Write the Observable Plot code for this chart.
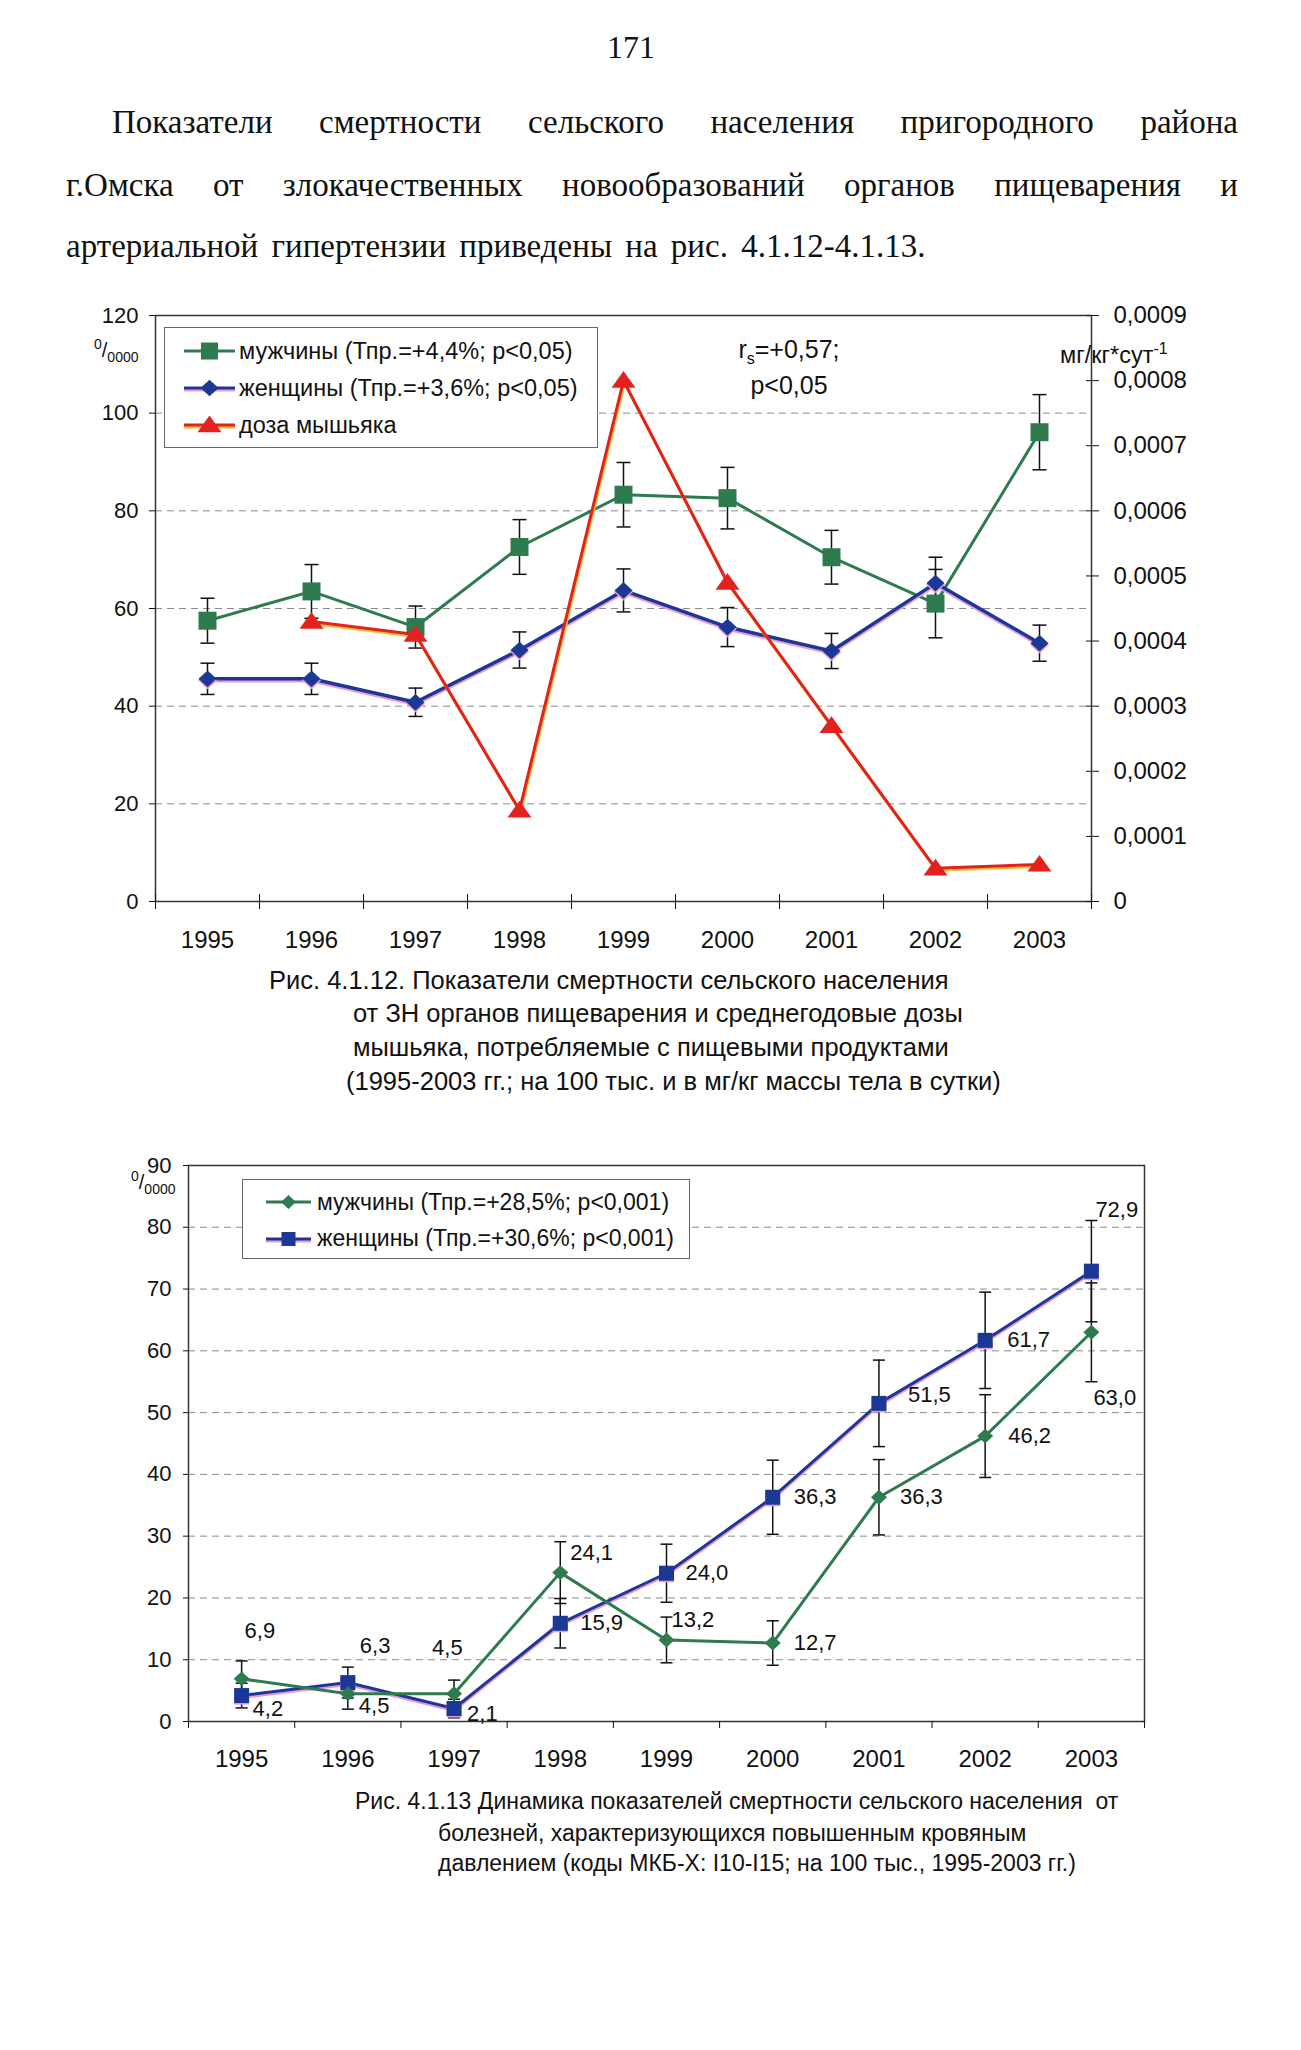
<!DOCTYPE html>
<html><head><meta charset="utf-8">
<script src="https://cdn.jsdelivr.net/npm/d3@7"></script>
<script src="https://cdn.jsdelivr.net/npm/@observablehq/plot@0.6"></script>
<style>
html,body{margin:0;padding:0;background:#fff;}
body{width:1301px;height:2050px;position:relative;overflow:hidden;font-family:"Liberation Sans",Arial,sans-serif;color:#111;}
.abs{position:absolute;white-space:nowrap;}
.serif{font-family:"Liberation Serif","Times New Roman",serif;font-size:33px;line-height:36px;color:#111;}
.just{text-align:justify;text-align-last:justify;white-space:normal;}
.cap{position:absolute;font-family:"Liberation Sans",Arial,sans-serif;font-size:23px;line-height:28px;white-space:nowrap;color:#111;}
.cap1{font-size:25.5px;}
.legend{position:absolute;background:#fff;border:1px solid #666;box-sizing:border-box;}
.legend .row{position:absolute;left:0;height:30px;display:flex;align-items:center;white-space:nowrap;}
.legend svg{display:block;}
.unit{position:absolute;font-size:20px;line-height:20px;white-space:nowrap;}
.unit sup,.unit sub{font-size:14px;line-height:0;}
#c1,#c2{position:absolute;left:0;}
</style></head><body>

<div class="abs serif" style="left:0;width:1262px;top:29px;text-align:center;font-size:32px;">171</div>
<div class="abs serif just" style="left:112px;width:1126px;top:104px;">Показатели смертности сельского населения пригородного района</div>
<div class="abs serif just" style="left:66px;width:1172px;top:167px;">г.Омска от злокачественных новообразований органов пищеварения и</div>
<div class="abs serif" style="left:66px;top:228px;word-spacing:5px;">артериальной гипертензии приведены на рис. 4.1.12-4.1.13.</div>

<div id="c1" style="top:290px;"></div>
<div id="c2" style="top:1140px;"></div>

<div class="cap cap1" style="left:269px;top:966px;">Рис. 4.1.12. Показатели смертности сельского населения</div>
<div class="cap cap1" style="left:353px;top:999px;">от ЗН органов пищеварения и среднегодовые дозы</div>
<div class="cap cap1" style="left:353px;top:1033px;">мышьяка, потребляемые с пищевыми продуктами</div>
<div class="cap cap1" style="left:346px;top:1067px;">(1995-2003 гг.; на 100 тыс. и в мг/кг массы тела в сутки)</div>

<div class="cap" style="left:355px;top:1787px;">Рис. 4.1.13 Динамика показателей смертности сельского населения&nbsp; от</div>
<div class="cap" style="left:438px;top:1819px;">болезней, характеризующихся повышенным кровяным</div>
<div class="cap" style="left:438px;top:1849px;">давлением (коды МКБ-Х: I10-I15; на 100 тыс., 1995-2003 гг.)</div>

<script>
// ---------- data ----------
const years = [1995, 1996, 1997, 1998, 1999, 2000, 2001, 2002, 2003];

// Fig. 4.1.12 (per 100 000; arsenic dose mg/kg per day)
const men1 = [57.5, 63.5, 56.2, 72.6, 83.3, 82.6, 70.5, 61.0, 96.1];
const men1Err = [4.6, 5.5, 4.3, 5.6, 6.6, 6.3, 5.5, 7.0, 7.7];
const women1 = [45.6, 45.6, 40.8, 51.5, 63.7, 56.2, 51.3, 65.2, 52.9];
const women1Err = [3.2, 3.2, 2.9, 3.7, 4.4, 4.0, 3.6, 5.3, 3.7];
const arsenic = [null, 0.00043, 0.00041, 0.00014, 0.00080, 0.00049, 0.00027, 0.000051, 0.000057];
const leftTicks1 = [0, 20, 40, 60, 80, 100, 120];
const grid1 = [20, 40, 60, 80, 100];
const doseTicks = [0, 0.0001, 0.0002, 0.0003, 0.0004, 0.0005, 0.0006, 0.0007, 0.0008, 0.0009];
const legend1 = ["мужчины (Тпр.=+4,4%; р<0,05)", "женщины (Тпр.=+3,6%; р<0,05)", "доза мышьяка"];

// Fig. 4.1.13 (per 100 000)
const men2 = [6.9, 4.5, 4.5, 24.1, 13.2, 12.7, 36.3, 46.2, 63.0];
const men2Err = [2.9, 2.5, 2.2, 5.0, 3.7, 3.6, 6.1, 6.7, 8.0];
const women2 = [4.2, 6.3, 2.1, 15.9, 24.0, 36.3, 51.5, 61.7, 72.9];
const women2Err = [2.0, 2.5, 1.5, 4.0, 4.7, 6.0, 7.0, 7.8, 8.2];
const leftTicks2 = [0, 10, 20, 30, 40, 50, 60, 70, 80, 90];
const grid2 = [10, 20, 30, 40, 50, 60, 70, 80];
const legend2 = ["мужчины (Тпр.=+28,5%; р<0,001)", "женщины (Тпр.=+30,6%; р<0,001)"];

// label placement (pixel offsets from the point), style only
const labelOffsetMen2 = [[3,-48],[11,12],[-22,-46],[10,-20],[5,-20],[21,0],[21,0],[23,0],[2,66]];
const labelOffsetWomen2 = [[11,13],[12,-37],[13,5],[20,0],[19,0],[21,0],[29,-8],[22,0],[4,-61]];

// ---------- styles ----------
const GREEN = "#2e7b50", BLUE = "#1c3896", RED = "#e3211f", PINK = "#e79ad8", YELLOW = "#f4c238";
const comma = s => s.replace(".", ",");
const f1 = d => comma(d3.format(".1f")(d));
const fDose = d => d === 0 ? "0" : comma(d3.format(".4f")(d));

const sym = {
  square: {draw(c, s) { const r = Math.sqrt(s / Math.PI); c.rect(-r, -r, 2 * r, 2 * r); }},
  diamond: {draw(c, s) { const r = Math.sqrt(s / Math.PI); c.moveTo(0, -r * 0.93); c.lineTo(r, 0); c.lineTo(0, r * 0.93); c.lineTo(-r, 0); c.closePath(); }},
  triangle: {draw(c, s) { const r = Math.sqrt(s / Math.PI); c.moveTo(0, -r * 0.95); c.lineTo(r * 1.2, r * 0.72); c.lineTo(-r * 1.2, r * 0.72); c.closePath(); }},
  cap: {draw(c, s) { const r = Math.sqrt(s / Math.PI); c.moveTo(-r, 0); c.lineTo(r, 0); }}
};

const xDomain = [years[0] - 0.5, years[years.length - 1] + 0.5];
const boundaries = years.map(y => y - 0.5).concat([years[years.length - 1] + 0.5]);

function errMarks(rows, v, e, capR) {
  return [
    Plot.ruleX(rows, {x: "year", y1: d => d[v] - d[e], y2: d => d[v] + d[e], stroke: "#111", strokeWidth: 1.5}),
    Plot.dot(rows, {x: "year", y: d => d[v] - d[e], symbol: sym.cap, r: capR, fill: "none", stroke: "#111", strokeWidth: 1.5}),
    Plot.dot(rows, {x: "year", y: d => d[v] + d[e], symbol: sym.cap, r: capR, fill: "none", stroke: "#111", strokeWidth: 1.5})
  ];
}

// ---------- chart 1 ----------
const k = 120 / 0.0009;
const rows1 = years.map((y, i) => ({year: y, men: men1[i], menErr: men1Err[i], women: women1[i], womenErr: women1Err[i], as: arsenic[i]}));
const asRows = rows1.filter(d => d.as != null);

const chart1 = Plot.plot({
  width: 1301, height: 680,
  marginLeft: 155, marginRight: 210, marginTop: 25, marginBottom: 69,
  style: {fontFamily: "Liberation Sans, Arial, sans-serif", fontSize: "22px", color: "#111", background: "transparent"},
  x: {domain: xDomain, axis: null},
  y: {domain: [0, 120], axis: null},
  marks: [
    Plot.ruleY(grid1, {stroke: "#8a8a8a", strokeWidth: 1, strokeDasharray: "7,5"}),
    Plot.frame({stroke: "#333", strokeWidth: 1.5}),
    Plot.axisY({anchor: "left", label: null, ticks: leftTicks1, tickSize: 6, tickPadding: 11, tickFormat: d => String(d), fontSize: 22}),
    Plot.axisY({anchor: "right", label: null, ticks: doseTicks.map(d => d * k), tickSize: 13, dx: -6, tickPadding: 15, tickFormat: d => fDose(d / k), fontSize: 24}),
    Plot.axisX({label: null, ticks: boundaries, tickSize: 15, dy: -7, tickFormat: () => ""}),
    Plot.axisX({label: null, ticks: years, tickSize: 0, tickPadding: 29, tickFormat: d => String(d), fontSize: 24}),
    ...errMarks(rows1, "men", "menErr", 7),
    ...errMarks(rows1, "women", "womenErr", 7),
    Plot.lineY(rows1, {x: "year", y: "men", stroke: GREEN, strokeWidth: 3}),
    Plot.dot(rows1, {x: "year", y: "men", symbol: sym.square, r: 9, fill: GREEN}),
    Plot.lineY(rows1, {x: "year", y: "women", stroke: PINK, strokeWidth: 3.5, dy: 2}),
    Plot.lineY(rows1, {x: "year", y: "women", stroke: BLUE, strokeWidth: 3.5}),
    Plot.dot(rows1, {x: "year", y: "women", symbol: sym.diamond, r: 9.5, fill: PINK, dy: 1.5}),
    Plot.dot(rows1, {x: "year", y: "women", symbol: sym.diamond, r: 9, fill: BLUE}),
    Plot.lineY(asRows, {x: "year", y: d => d.as * k, stroke: YELLOW, strokeWidth: 3, dy: 2, dx: 1}),
    Plot.lineY(asRows, {x: "year", y: d => d.as * k, stroke: RED, strokeWidth: 3}),
    Plot.dot(asRows, {x: "year", y: d => d.as * k, symbol: sym.triangle, r: 10, fill: RED})
  ]
});
document.getElementById("c1").appendChild(chart1);

// ---------- chart 2 ----------
const rows2 = years.map((y, i) => ({year: y, men: men2[i], menErr: men2Err[i], women: women2[i], womenErr: women2Err[i]}));
const labelMarks = rows2.flatMap((d, i) => [
  Plot.text([d], {x: "year", y: "men", text: r => f1(r.men), dx: labelOffsetMen2[i][0], dy: labelOffsetMen2[i][1], textAnchor: "start", lineAnchor: "middle", fontSize: 22, fill: "#111"}),
  Plot.text([d], {x: "year", y: "women", text: r => f1(r.women), dx: labelOffsetWomen2[i][0], dy: labelOffsetWomen2[i][1], textAnchor: "start", lineAnchor: "middle", fontSize: 22, fill: "#111"})
]);

const chart2 = Plot.plot({
  width: 1301, height: 640,
  marginLeft: 188, marginRight: 157, marginTop: 25, marginBottom: 59,
  style: {fontFamily: "Liberation Sans, Arial, sans-serif", fontSize: "22px", color: "#111", background: "transparent"},
  x: {domain: xDomain, axis: null},
  y: {domain: [0, 90], axis: null},
  marks: [
    Plot.ruleY(grid2, {stroke: "#8a8a8a", strokeWidth: 1, strokeDasharray: "7,5"}),
    Plot.frame({stroke: "#333", strokeWidth: 1.5}),
    Plot.axisY({anchor: "left", label: null, ticks: leftTicks2, tickSize: 5, tickPadding: 12, tickFormat: d => String(d), fontSize: 22}),
    Plot.axisX({label: null, ticks: boundaries, tickSize: 7, tickFormat: () => ""}),
    Plot.axisX({label: null, ticks: years, tickSize: 0, tickPadding: 28, tickFormat: d => String(d), fontSize: 24}),
    ...errMarks(rows2, "men", "menErr", 6),
    ...errMarks(rows2, "women", "womenErr", 6),
    Plot.lineY(rows2, {x: "year", y: "women", stroke: PINK, strokeWidth: 3, dy: 2}),
    Plot.lineY(rows2, {x: "year", y: "women", stroke: BLUE, strokeWidth: 3}),
    Plot.dot(rows2, {x: "year", y: "women", symbol: sym.square, r: 7.5, fill: PINK, dy: 1.5}),
    Plot.dot(rows2, {x: "year", y: "women", symbol: sym.square, r: 7.5, fill: BLUE}),
    Plot.lineY(rows2, {x: "year", y: "men", stroke: GREEN, strokeWidth: 3}),
    Plot.dot(rows2, {x: "year", y: "men", symbol: sym.diamond, r: 8, fill: GREEN}),
    ...labelMarks
  ]
});
document.getElementById("c2").appendChild(chart2);

// ---------- legends & annotations (HTML overlays) ----------
function sample(color, shadow, markerSvg, w) {
  const sh = shadow ? `<line x1="0" y1="17" x2="${w}" y2="17" stroke="${shadow}" stroke-width="3"/>` : "";
  return `<svg width="${w}" height="30" viewBox="0 0 ${w} 30">${sh}<line x1="0" y1="15" x2="${w}" y2="15" stroke="${color}" stroke-width="3"/>${markerSvg}</svg>`;
}
function addLegend(box, entries) {
  const div = document.createElement("div");
  div.className = "legend";
  Object.assign(div.style, {left: box.left + "px", top: box.top + "px", width: box.w + "px", height: box.h + "px"});
  entries.forEach((e, i) => {
    const row = document.createElement("div");
    row.className = "row";
    row.style.top = (box.rowTop + i * box.rowGap - 15) + "px";
    row.style.left = box.sampleLeft + "px";
    row.innerHTML = sample(e.color, e.shadow, e.marker, box.sampleW) +
      `<span style="margin-left:${box.gap}px;font-size:${box.fs}px;">${e.label}</span>`;
    div.appendChild(row);
  });
  document.body.appendChild(div);
}
const mSquare = (c, h, w) => `<rect x="${w/2-h}" y="${15-h}" width="${2*h}" height="${2*h}" fill="${c}"/>`;
const mDiamond = (c, h, w) => `<path d="M${w/2},${15-h*0.93}L${w/2+h},15L${w/2},${15+h*0.93}L${w/2-h},15Z" fill="${c}"/>`;
const mTri = (c, h, w) => `<path d="M${w/2},${15-h*0.95}L${w/2+h*1.2},${15+h*0.72}L${w/2-h*1.2},${15+h*0.72}Z" fill="${c}"/>`;

addLegend({left: 164, top: 327, w: 434, h: 121, rowTop: 23, rowGap: 37, sampleLeft: 19, sampleW: 51, gap: 4, fs: 23.5}, [
  {label: legend1[0], color: GREEN, marker: mSquare(GREEN, 8.5, 51)},
  {label: legend1[1], color: BLUE, shadow: PINK, marker: mDiamond(BLUE, 9, 51)},
  {label: legend1[2], color: RED, shadow: YELLOW, marker: mTri(RED, 10, 51)}
]);
addLegend({left: 242, top: 1179, w: 448, h: 80, rowTop: 22, rowGap: 36.5, sampleLeft: 23, sampleW: 45, gap: 6, fs: 23}, [
  {label: legend2[0], color: GREEN, marker: mDiamond(GREEN, 7.5, 45)},
  {label: legend2[1], color: BLUE, shadow: PINK, marker: mSquare(BLUE, 7, 45)}
]);

function addHTML(html, style, cls) {
  const d = document.createElement("div");
  d.className = cls || "unit";
  d.innerHTML = html;
  Object.assign(d.style, style);
  document.body.appendChild(d);
}
addHTML("<sup>0</sup>/<sub>0000</sub>", {left: "94px", top: "340px"});
addHTML("<sup>0</sup>/<sub>0000</sub>", {left: "131px", top: "1172px"});
addHTML("мг/кг*сут<sup style=\"font-size:16px\">-1</sup>", {left: "1060px", top: "344px", fontSize: "23.5px", lineHeight: "23px"});
addHTML("r<sub style=\"font-size:16px\">s</sub>=+0,57;<br>p&lt;0,05", {left: "724px", top: "331px", width: "130px", textAlign: "center", fontSize: "25px", lineHeight: "36px"});
</script>
</body></html>
